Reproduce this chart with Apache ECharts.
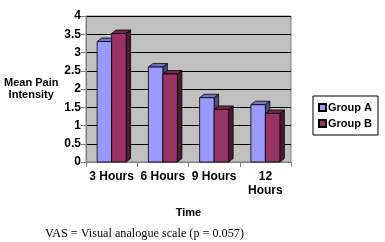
<!DOCTYPE html>
<html style="height: 100%">
<head>
    <meta charset="utf-8">
    <script type="text/javascript" src="https://cdn.jsdelivr.net/npm/echarts@6/dist/echarts.min.js"></script>
</head>
<body style="height: 100%; margin: 0; background: #fff">
<div id="container" style="height: 242px;width: 385px;position: absolute;top: 0;left: 0px;"></div>
<script type="text/javascript">
    var categories = ['3 Hours', '6 Hours', '9 Hours', '12\nHours'];
    var groupA = [3.3, 2.6, 1.76, 1.57];
    var groupB = [3.52, 2.41, 1.44, 1.33];
    var yTicks = [0, 0.5, 1, 1.5, 2, 2.5, 3, 3.5, 4];

    var dom = document.getElementById("container");
    var myChart = echarts.init(dom, null, {renderer: 'canvas'});
    var font = 'Liberation Sans, Arial, sans-serif';

    // 3D looking bar: front face + top + side
    function bar3d(colors, shift) {
        return function (params, api) {
            var top = api.coord([api.value(0), api.value(1)]);
            var base = api.coord([api.value(0), 0]);
            var bw = 14.5, dx = 4.5, dy = 3.5;
            var x0 = top[0] + shift * bw;
            var x1 = x0 + bw;
            return {
                type: 'group',
                children: [
                    {type: 'polygon', shape: {points: [[x1, top[1]], [x1 + dx, top[1] - dy], [x1 + dx, base[1] - dy], [x1, base[1]]]},
                        style: {fill: colors[2], stroke: '#000', lineWidth: 0.8}},
                    {type: 'polygon', shape: {points: [[x0, top[1]], [x0 + dx, top[1] - dy], [x1 + dx, top[1] - dy], [x1, top[1]]]},
                        style: {fill: colors[1], stroke: '#000', lineWidth: 0.8}},
                    {type: 'rect', shape: {x: x0, y: top[1], width: bw, height: base[1] - top[1]},
                        style: {fill: colors[0], stroke: '#000', lineWidth: 0.8}}
                ]
            };
        };
    }

    option = {
        animation: false,
        textStyle: {fontFamily: font},
        title: {
            text: 'VAS = Visual analogue scale (p = 0.057)',
            left: 40,
            top: 223,
            textStyle: {fontFamily: 'Liberation Serif, Times New Roman, serif', fontWeight: 'normal', fontSize: 12.2, color: '#000'}
        },
        legend: {
            orient: 'vertical',
            left: 313,
            top: 96,
            width: 68,
            padding: [6, 6, 6, 5],
            itemGap: 5,
            borderColor: '#000',
            borderWidth: 1,
            icon: 'rect',
            itemWidth: 7,
            itemHeight: 7,
            textStyle: {fontFamily: font, fontWeight: 'bold', fontSize: 11, color: '#000', padding: [0, 0, 0, -3]},
            data: ['Group A', 'Group B']
        },
        grid: {
            left: 86,
            right: 94,
            top: 16,
            bottom: 80,
            show: true,
            backgroundColor: '#c0c0c0',
            borderColor: '#808080',
            borderWidth: 1
        },
        xAxis: {
            type: 'category',
            data: categories,
            name: 'Time',
            nameLocation: 'middle',
            nameGap: 45,
            nameTextStyle: {fontFamily: font, fontWeight: 'bold', fontSize: 11, color: '#000'},
            axisLine: {lineStyle: {color: '#808080'}},
            axisTick: {show: true, lineStyle: {color: '#808080'}},
            axisLabel: {interval: 0, fontFamily: font, fontWeight: 'bold', fontSize: 12, color: '#000', margin: 8, lineHeight: 14}
        },
        yAxis: {
            type: 'value',
            min: 0,
            max: 4,
            interval: 0.5,
            name: 'Mean Pain\nIntensity',
            nameLocation: 'middle',
            nameRotate: 0,
            nameGap: 51,
            nameTextStyle: {fontFamily: font, fontWeight: 'bold', fontSize: 11, color: '#000', lineHeight: 12, align: 'center'},
            axisLine: {show: true, lineStyle: {color: '#808080'}},
            axisTick: {show: true, lineStyle: {color: '#808080'}},
            splitLine: {lineStyle: {color: '#000', width: 1}},
            axisLabel: {fontFamily: font, fontWeight: 'bold', fontSize: 12, color: '#000', margin: 5,
                customValues: yTicks}
        },
        series: [
            {
                name: 'Group A',
                type: 'custom',
                itemStyle: {color: '#9999ff', borderColor: '#000', borderWidth: 1},
                renderItem: bar3d(['#9999ff', '#7373c0', '#4d4d80'], -1),
                encode: {x: 0, y: 1},
                data: groupA.map(function (v, i) { return [i, v]; })
            },
            {
                name: 'Group B',
                type: 'custom',
                itemStyle: {color: '#993366', borderColor: '#000', borderWidth: 1},
                renderItem: bar3d(['#993366', '#73264d', '#4d1a33'], 0),
                encode: {x: 0, y: 1},
                data: groupB.map(function (v, i) { return [i, v]; })
            }
        ]
    };
    myChart.setOption(option, true);
</script>
</body>
</html>
